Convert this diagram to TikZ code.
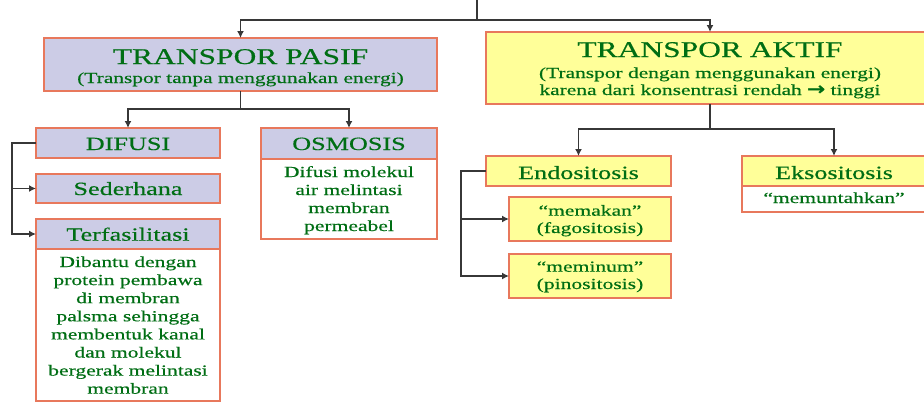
\documentclass[tikz,border=0pt]{standalone}
\usepackage{fontspec}
\setmainfont{Liberation Serif}[FakeStretch=1.4,FakeBold=0.45]
\newfontfamily\symf{DejaVu Sans}[FakeStretch=1.2,FakeBold=2]
\usetikzlibrary{arrows.meta,calc}
\definecolor{lav}{RGB}{204,204,230}
\definecolor{yel}{RGB}{255,255,153}
\definecolor{bord}{RGB}{232,120,92}
\definecolor{grn}{RGB}{0,110,20}
\definecolor{lin}{RGB}{55,55,55}
\begin{document}
\begin{tikzpicture}[x=1pt,y=-1pt,
  box/.style={draw=bord, line width=1.4pt, anchor=north west, inner sep=0pt, outer sep=0pt},
  txt/.style={text=grn, inner sep=0pt, anchor=base},
  ftitle/.style={txt, font=\fontsize{22.5}{26}\selectfont},
  fsub/.style={txt, font=\fontsize{15.3}{18}\selectfont},
  fhead/.style={txt, font=\fontsize{18.7}{22}\selectfont},
  fbody/.style={txt, font=\fontsize{15.4}{18.1}\selectfont},
  conn/.style={draw=lin, line width=1.5pt},
  arr/.style={conn, -{Latex[length=7pt,width=7pt]}}]
\clip (0,0) rectangle (924,402);
\fill[white] (0,0) rectangle (924,402);
% boxes
\node[box, fill=lav, minimum width=393pt, minimum height=53pt] (pasif) at (44,38) {};
\node[box, fill=yel, minimum width=448pt, minimum height=72pt] (aktif) at (486,32) {};
\node[box, fill=lav, minimum width=184pt, minimum height=30pt] (difusi) at (36,128) {};
\node[box, fill=lav, minimum width=184pt, minimum height=29pt] (sederhana) at (36,174) {};
\node[box, fill=white, minimum width=184pt, minimum height=152pt] (terfbody) at (36,249) {};
\node[box, fill=lav, minimum width=184pt, minimum height=30pt] (terf) at (36,219) {};
\node[box, fill=white, minimum width=176pt, minimum height=80pt] (osmobody) at (261,159) {};
\node[box, fill=lav, minimum width=176pt, minimum height=31pt] (osmosis) at (261,128) {};
\node[box, fill=yel, minimum width=185pt, minimum height=30pt] (endo) at (486,156) {};
\node[box, fill=yel, minimum width=162pt, minimum height=44pt] (memakan) at (509,197) {};
\node[box, fill=yel, minimum width=162pt, minimum height=44pt] (meminum) at (509,254) {};
\node[box, fill=white, minimum width=184pt, minimum height=26pt] (eksobody) at (742,186) {};
\node[box, fill=yel, minimum width=184pt, minimum height=30pt] (ekso) at (742,156) {};
% connectors
\coordinate (top) at (477,-2);
\coordinate (tj) at (477,20);
\draw[conn] (top) -- (tj);
\draw[arr] (tj) -| (pasif.north);
\draw[arr] (tj) -| (aktif.north);
\coordinate (pj) at ($(pasif.south)+(0,18)$);
\draw[conn] (pasif.south) -- (pj);
\draw[arr] (pj) -| (difusi.north);
\draw[arr] (pj) -| (osmosis.north);
\coordinate (dl) at (12,0);
\draw[arr] (difusi.west) -- (difusi.west -| dl) |- (terf.west);
\draw[arr] (dl |- sederhana.west) -- (sederhana.west);
\coordinate (aj) at ($(aktif.south)+(0,25)$);
\draw[conn] (aktif.south) -- (aj);
\draw[arr] (aj) -| (endo.north);
\draw[arr] (aj) -| (ekso.north);
\coordinate (el) at (461,0);
\draw[arr] (endo.west) -- (endo.west -| el) |- (meminum.west);
\draw[arr] (el |- memakan.west) -- (memakan.west);
% texts
\node[ftitle] (tpasif) at (240.5,64) {TRANSPOR PASIF};
\node[fsub] (spasif) at (240.5,83) {(Transpor tanpa menggunakan energi)};
\node[ftitle] (taktif) at (710,57) {TRANSPOR AKTIF};
\node[fsub] (saktif1) at (710,78) {(Transpor dengan menggunakan energi)};
\node[fsub] (saktif2) at (710,95) {karena dari konsentrasi rendah {\symf\fontsize{18}{18}\selectfont →} tinggi};
\node[fhead] (tdifusi) at (128,150) {DIFUSI};
\node[fhead] (tsed) at (128,195) {Sederhana};
\node[fhead] (tterf) at (128,240.7) {Terfasilitasi};
\node[fhead] (tosmo) at (349,150) {OSMOSIS};
\foreach \t [count=\i] in {Difusi molekul, air melintasi, membran, permeabel}
  \node[fbody] (osm\i) at (349,{177+18*(\i-1)}) {\t};
\foreach \t [count=\i] in {Dibantu dengan, protein pembawa, di membran, palsma sehingga, membentuk kanal, dan molekul, bergerak melintasi, membran}
  \node[fbody] (trf\i) at (128,{267+18.1*(\i-1)}) {\t};
\node[fhead] (tendo) at (578.5,179) {Endositosis};
\node[fhead] (tekso) at (834,179) {Eksositosis};
\node[fbody] (tmk1) at (590,215.7) {“memakan”};
\node[fbody] (tmk2) at (590,233) {(fagositosis)};
\node[fbody] (tmn1) at (590,271.7) {“meminum”};
\node[fbody] (tmn2) at (590,289) {(pinositosis)};
\node[fbody] (tmun) at (834,203) {“memuntahkan”};
\end{tikzpicture}
\end{document}
